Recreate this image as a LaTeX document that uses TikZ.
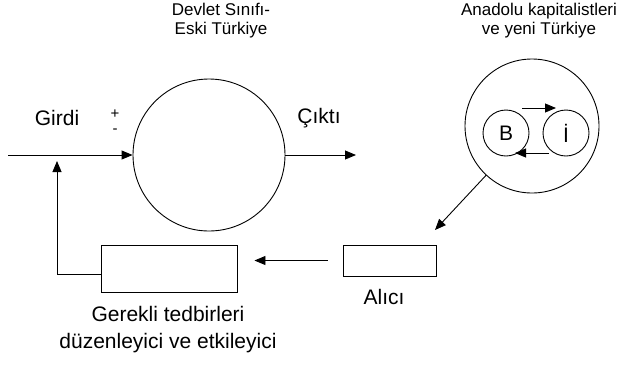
\documentclass[tikz,border=0pt]{standalone}
\usepackage{fontspec}
\setmainfont{Liberation Sans}
\usetikzlibrary{arrows.meta}

\begin{document}
\begin{tikzpicture}[x=1pt,y=-1pt,>={Triangle[length=11pt,width=9pt]},line width=0.9pt,
    main node/.style={circle,draw,inner sep=0pt},
    box node/.style={rectangle,draw,inner sep=0pt},
    label node/.style={font=\fontsize{21}{27}\selectfont,align=center},
    title node/.style={font=\fontsize{17}{19}\selectfont,align=center},
    sign node/.style={font=\fontsize{15}{15}\selectfont,inner sep=0pt,text height=9pt,text depth=0pt}]
                \useasboundingbox (0,0) rectangle (623,365);
                \node[main node,minimum size=152pt] (state) at (209,155) {};
                \node[main node,minimum size=134pt] (new) at (532,126) {};
                \node[main node,minimum size=46pt,font=\fontsize{21}{21}\selectfont] (b) at (506,133) {B};
                \node[main node,minimum size=46pt,font=\fontsize{21}{21}\selectfont] (i) at (566,133) {İ};
                \node[box node,minimum width=93pt,minimum height=31pt] (alici) at (389.5,260.5) {};
                \node[box node,minimum width=136pt,minimum height=47pt] (tedbir) at (169,268.5) {};
    
                \coordinate (in) at (8,155);
                \coordinate (out) at (356,155);
                \coordinate (bend) at (57,274);
                \coordinate (fb) at (57,161);
                \coordinate (rx) at (435,230);
                \coordinate (bi1) at (522,108);
                \coordinate (bi2) at (556,108);
                \coordinate (ib1) at (549,153);
                \coordinate (ib2) at (515,153);
    
                \node[label node] (girdi) at (57,118) {Girdi};
                \node[sign node] (plus) at (115,114) {+};
                \node[sign node] (minus) at (115,129) {-};
                \node[label node] (cikti) at (319,118) {Çıktı};
                \node[title node] (devlet) at (221,21) {Devlet Sınıfı-\\Eski Türkiye};
                \node[title node] (anadolu) at (539,21) {Anadolu kapitalistleri\\ve yeni Türkiye};
                \node[label node] (alicit) at (384,297) {Alıcı};
                \node[label node] (tedbirt) at (168,330) {Gerekli tedbirleri\\düzenleyici ve etkileyici};
    
                \path[->]
                    (in) edge (state)
                    (state) edge (out)
                    (new) edge (rx)
                    (alici.west) edge[shorten <=15pt,shorten >=17pt] (alici.west -| tedbir.east)
                    (bi1) edge (bi2)
                    (ib1) edge (ib2)
                    ;
                \draw[->] (tedbir.west |- bend) -- (bend) -- (fb);
            \end{tikzpicture}
\end{document}
